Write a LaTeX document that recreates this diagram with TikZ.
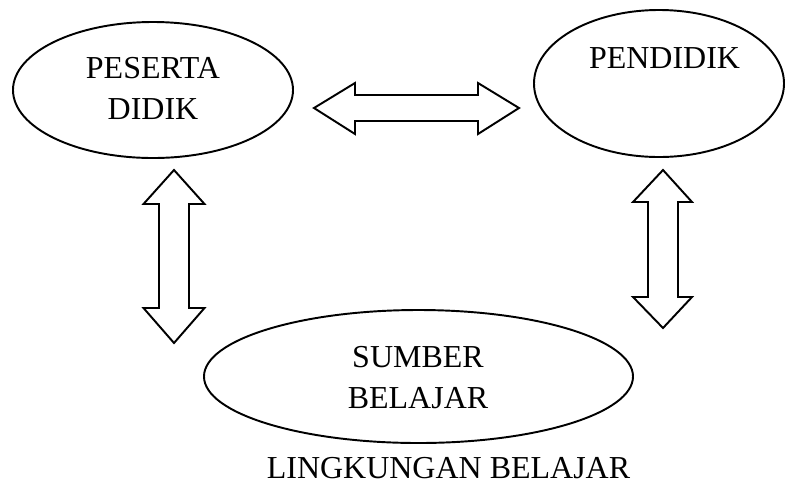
\documentclass[tikz,border=0pt]{standalone}
\usepackage{fontspec}
\setmainfont{Liberation Serif}
\usetikzlibrary{shapes.geometric}

\begin{document}
\begin{tikzpicture}[x=0.2mm, y=-0.2mm, line width=1.1pt,
    bubble/.style={draw, ellipse, inner sep=0pt},
    txt/.style={align=center, inner sep=0pt, font=\fontsize{18.2}{23.3}\selectfont},
    blockarrow/.style={draw, line join=miter, fill=white}]
    \useasboundingbox (0,0) rectangle (785,485);

    % Ellipses
    \node[bubble, minimum width=56mm, minimum height=27.2mm] (PD) at (153,90) {};
    \node[bubble, minimum width=50mm, minimum height=29.4mm] (GR) at (659,83.5) {};
    \node[bubble, minimum width=85.8mm, minimum height=26.6mm] (SB) at (418.5,376.5) {};

    % Labels
    \node[txt] (PDtext) at (153,88) {PESERTA\\DIDIK};
    \node[txt] (GRtext) at (664.5,58.5) {PENDIDIK};
    \node[txt] (SBtext) at (418,377.5) {SUMBER\\BELAJAR};
    \node[txt] (LBtext) at (448.5,468) {LINGKUNGAN BELAJAR};

    % Double arrow PD <-> GR
    \draw[blockarrow] (314,108) -- (355,83) -- (355,95) -- (478,95) -- (478,83)
        -- (519,108) -- (478,134) -- (478,121) -- (355,121) -- (355,134) -- cycle;

    % Double arrow PD <-> SB
    \draw[blockarrow] (174,170) -- (204.5,204) -- (189,204) -- (189,308) -- (204.5,308)
        -- (174,343) -- (143.5,308) -- (159,308) -- (159,204) -- (143.5,204) -- cycle;

    % Double arrow GR <-> SB
    \draw[blockarrow] (663,170) -- (692,202) -- (678,202) -- (678,297) -- (692,297)
        -- (663,328) -- (633,297) -- (648,297) -- (648,202) -- (633,202) -- cycle;
\end{tikzpicture}
\end{document}
